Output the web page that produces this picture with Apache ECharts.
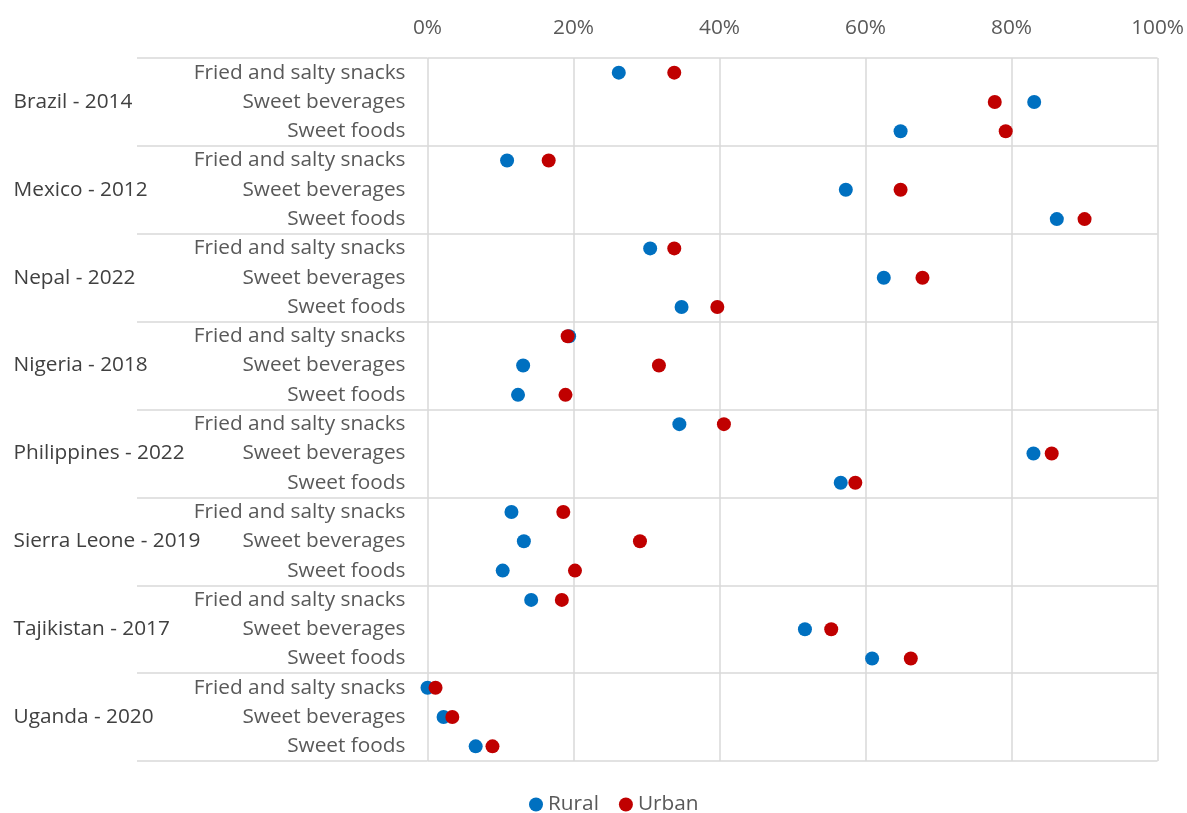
<!DOCTYPE html>
<html>
<head>
<meta charset="utf-8">
<script src="https://cdn.jsdelivr.net/npm/echarts@6/dist/echarts.min.js"></script>
<style>html,body{margin:0;padding:0;background:#fff}#c{width:1187px;height:813px}</style>
</head>
<body>
<div id="c"></div>
<script>
const groups = ['Brazil - 2014','Mexico - 2012','Nepal - 2022','Nigeria - 2018','Philippines - 2022','Sierra Leone - 2019','Tajikistan - 2017','Uganda - 2020'];
const subcats = ['Fried and salty snacks','Sweet beverages','Sweet foods'];
const xTicks = [0,20,40,60,80,100];
// values in %, order: group by group, subcats in order
const rural = [26.2,83.1,64.8, 10.9,57.3,86.2, 30.5,62.5,34.8, 19.4,13.1,12.4, 34.5,83.0,56.6, 11.5,13.2,10.3, 14.2,51.7,60.9, 0.0,2.2,6.6];
const urban = [33.8,77.7,79.2, 16.6,64.8,90.0, 33.8,67.8,39.7, 19.2,31.7,18.9, 40.6,85.5,58.6, 18.6,29.1,20.2, 18.4,55.3,66.2, 1.1,3.4,8.9];

const rows = [];
groups.forEach((g,gi)=>subcats.forEach(s=>rows.push(gi+'|'+s)));
const toPts = arr => arr.map((v,i)=>[v,i]);

const FONT = 'Open Sans';
const FS = 20.8;
const GRID = '#d9d9d9';
const chart = echarts.init(document.getElementById('c'));
chart.setOption({
  animation:false,
  textStyle:{fontFamily:FONT},
  grid:{left:427.5,right:28.5,top:58,bottom:52,containLabel:false},
  xAxis:{type:'value',position:'top',min:xTicks[0],max:xTicks[xTicks.length-1],interval:20,
    axisLine:{show:false},axisTick:{show:false},
    axisLabel:{formatter:'{value}%',color:'#595959',fontSize:FS,fontFamily:FONT,margin:19},
    splitLine:{show:true,lineStyle:{color:GRID,width:1.5}}},
  yAxis:[
    {type:'category',data:rows,inverse:true,position:'left',
     axisLine:{show:false},axisTick:{show:false},splitLine:{show:false},
     axisLabel:{formatter:v=>v.split('|')[1],color:'#595959',fontSize:FS,fontFamily:FONT,margin:22,align:'right'}},
    {type:'category',data:groups,inverse:true,position:'left',
     axisLine:{show:false},
     axisTick:{show:true,length:290.5,lineStyle:{color:GRID,width:1.5}},
     splitLine:{show:true,lineStyle:{color:GRID,width:1.5}},
     axisLabel:{color:'#404040',fontSize:FS,fontFamily:FONT,margin:414,align:'left'}}
  ],
  legend:{bottom:-7,left:524,icon:'circle',itemWidth:14,itemHeight:14,itemGap:20,
    textStyle:{color:'#595959',fontSize:FS,fontFamily:FONT},data:['Rural','Urban']},
  series:[
    {name:'Rural',type:'scatter',yAxisIndex:0,symbol:'circle',symbolSize:14,itemStyle:{color:'#0070C0',opacity:1},data:toPts(rural),z:2},
    {name:'Urban',type:'scatter',yAxisIndex:0,symbol:'circle',symbolSize:14,itemStyle:{color:'#C00000',opacity:1},data:toPts(urban),z:3}
  ]
});
</script>
</body>
</html>
